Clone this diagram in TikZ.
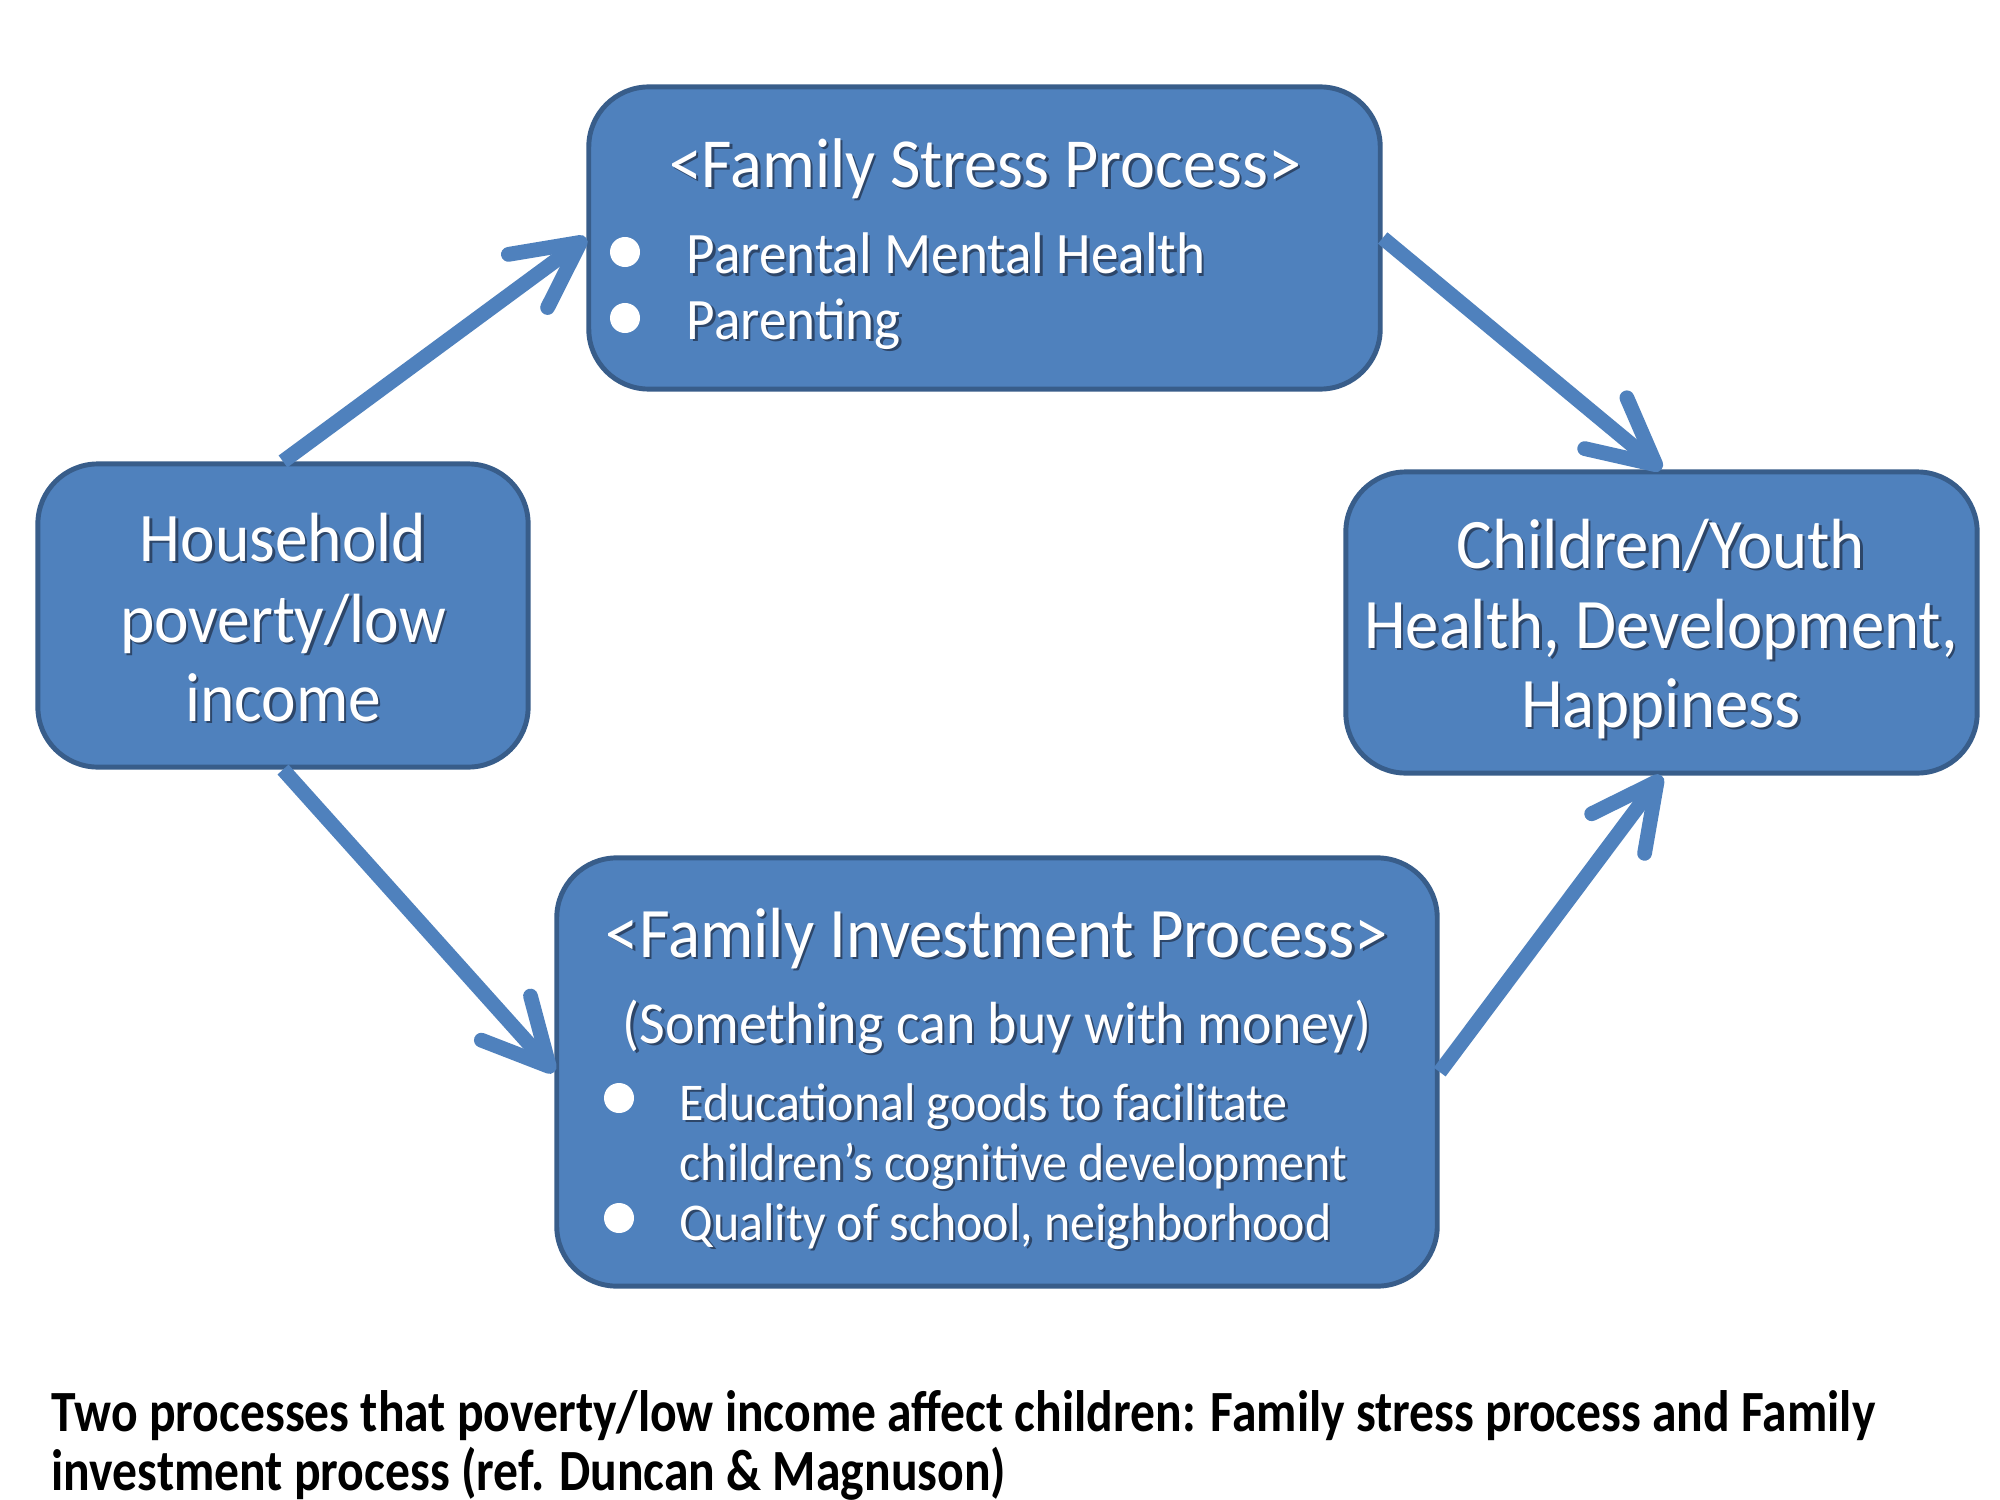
\documentclass[tikz,border=0pt]{standalone}
\usepackage{fontspec}
\setmainfont{Carlito}[FakeStretch=0.94]
\newfontfamily\capfont{Carlito}[FakeStretch=0.85]
\usetikzlibrary{arrows.meta}
\definecolor{boxblue}{RGB}{79,129,189}
\definecolor{boxedge}{RGB}{56,93,138}
\definecolor{txtshadow}{RGB}{45,70,105}
\newcommand\shd[1]{\leavevmode\rlap{\kern0.7pt\raisebox{-0.7pt}{\textcolor{txtshadow}{#1}}}#1}
\newcommand\fs[1]{\fontsize{#1}{1.2\dimexpr#1pt\relax}\selectfont}
\begin{document}
\begin{tikzpicture}[x=0.01cm,y=-0.01cm,
  box/.style={draw=boxedge, line width=1.4pt, fill=boxblue, rounded corners=0.6cm, inner sep=0pt},
  txt/.style={text=white, inner sep=0pt, anchor=base},
  ltxt/.style={text=white, inner sep=0pt, anchor=base west},
  dot/.style={circle, fill=white, minimum size=0.3cm, inner sep=0pt},
  flow/.style={draw=boxblue, line width=4.2pt, -{Straight Barb[round, length=0.65cm, width=0.66cm]}},
  captxt/.style={text=black, inner sep=0pt, anchor=base west, font=\capfont\fontsize{16.6}{20}\selectfont\bfseries}]
\useasboundingbox (0,0) rectangle (2000,1500);
\fill[white] (0,0) rectangle (2000,1500);
% boxes
\node[box, minimum width=7.91cm, minimum height=3.02cm] (stress) at (984.5,238) {};
\node[box, minimum width=4.90cm, minimum height=3.03cm] (house) at (283,615.5) {};
\node[box, minimum width=6.31cm, minimum height=3.01cm] (child) at (1661.5,622.5) {};
\node[box, minimum width=8.80cm, minimum height=4.28cm] (invest) at (997,1072) {};
% arrows
\draw[flow] (house.north) -- (stress.west);
\draw[flow] (stress.east) -- (child.north);
\draw[flow] (house.south) -- (invest.west);
\draw[flow] (invest.east) -- (child.south);
% stress text
\node[txt, font=\fs{20}] (st) at (985,187.5) {\shd{<Family Stress Process>}};
\node[dot] (sd1) at (625,252) {};
\node[dot] (sd2) at (625,318) {};
\node[ltxt, font=\fs{16.7}] (s1) at (686,274) {\shd{Parental Mental Health}};
\node[ltxt, font=\fs{16.7}] (s2) at (686,339) {\shd{Parenting}};
% household text
\node[txt, font=\fs{19.8}] (h1) at (283,561) {\shd{Household}};
\node[txt, font=\fs{19.8}] (h2) at (283,642) {\shd{poverty/low}};
\node[txt, font=\fs{19.8}] (h3) at (283,721) {\shd{income}};
% children text
\node[txt, font=\fs{20.2}] (c1) at (1661,568) {\shd{Children/Youth}};
\node[txt, font=\fs{20.2}] (c2) at (1661,648) {\shd{Health, Development,}};
\node[txt, font=\fs{20.2}] (c3) at (1661,727) {\shd{Happiness}};
% investment text
\node[txt, font=\fs{20.2}] (it) at (997,957) {\shd{<Family Investment Process>}};
\node[txt, font=\fs{16.9}] (is) at (997,1043) {\shd{(Something can buy with money)}};
\node[dot] (id1) at (619,1098) {};
\node[dot] (id2) at (619,1218) {};
\node[ltxt, font=\fs{15.1}] (i1) at (679,1120) {\shd{Educational goods to facilitate}};
\node[ltxt, font=\fs{15.1}] (i2) at (679,1180) {\shd{children’s cognitive development}};
\node[ltxt, font=\fs{15.1}] (i3) at (679,1240) {\shd{Quality of school, neighborhood}};
% caption
\node[captxt] (cap1) at (51,1431) {Two processes that poverty/low income affect children: Family stress process and Family};
\node[captxt] (cap2) at (51,1490) {investment process (ref. Duncan \& Magnuson)};
\end{tikzpicture}
\end{document}
